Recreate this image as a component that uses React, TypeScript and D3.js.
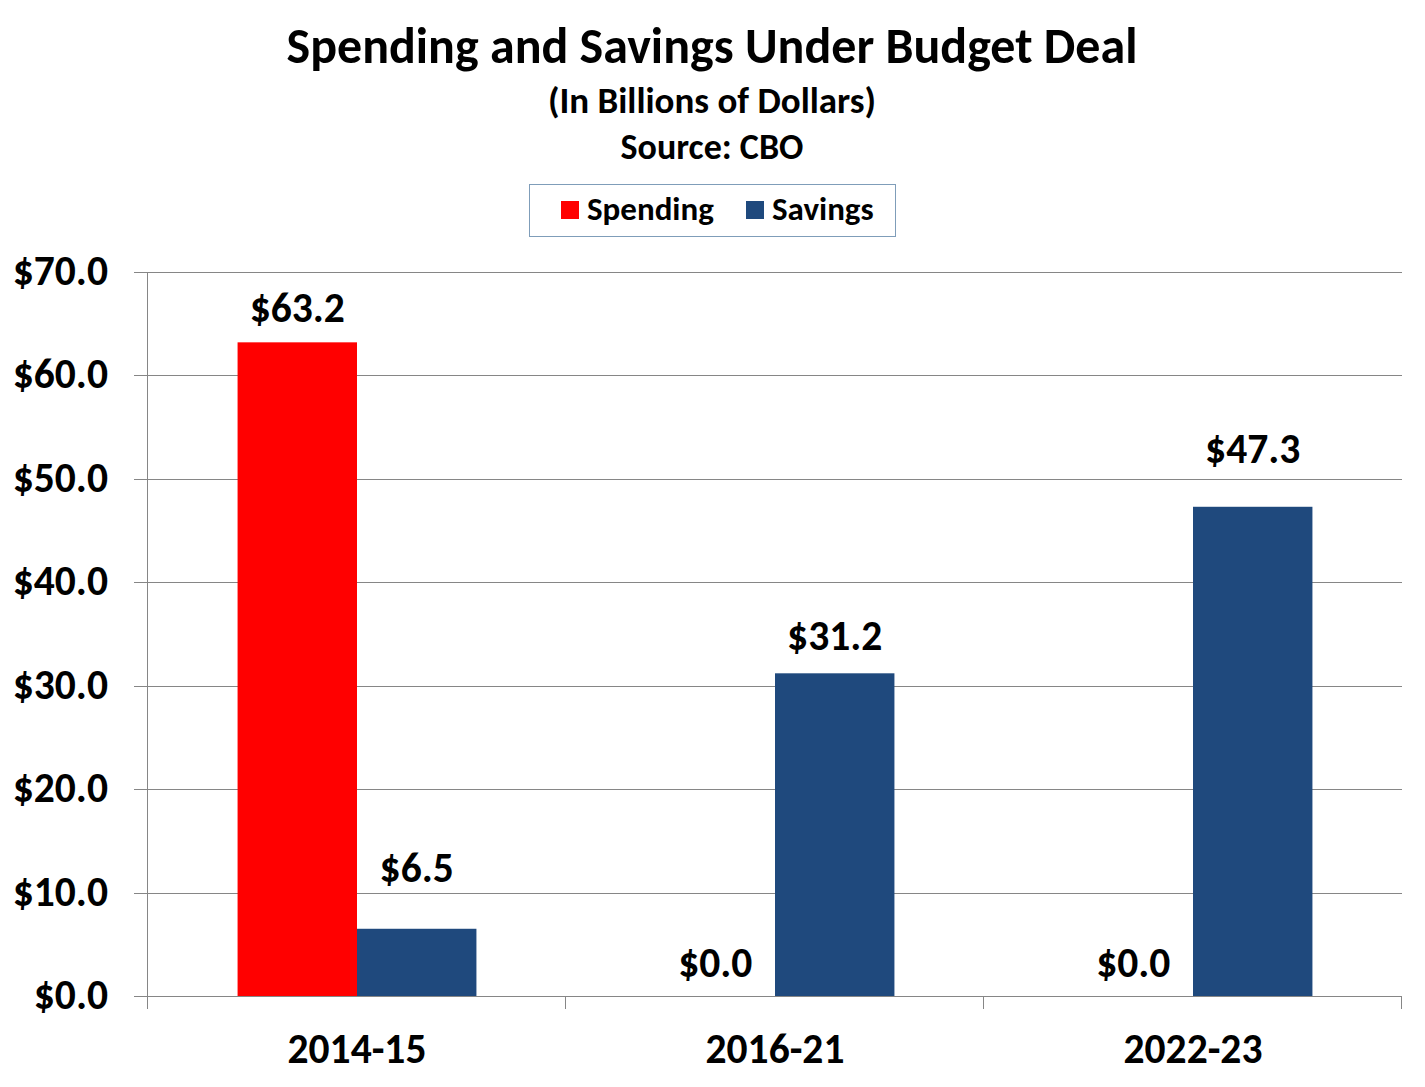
import React from "react";
import * as d3 from "d3";

const categories = ["2014-15", "2016-21", "2022-23"];
const seriesNames = ["Spending", "Savings"];
const spending = [63.2, 0.0, 0.0];
const savings = [6.5, 31.2, 47.3];
const yTicks = [0, 10, 20, 30, 40, 50, 60, 70];
const colors = ["#FF0000", "#1F497D"];
// gap in px between bar top and data label baseline (manually placed labels in the original)
const spendingLabelGap = [20, 19, 19];
const savingsLabelGap = [47, 23, 44];

const FONT = "Carlito, Calibri, Lato, 'Open Sans', sans-serif";

export default function App() {
  const W = 1425, H = 1087;
  const left = 148, right = 1402, top = 272, bottom = 996;
  const x = d3.scaleBand<string>().domain(categories).range([left, right]).paddingInner(0).paddingOuter(0);
  const y = d3.scaleLinear().domain([0, 70]).range([bottom, top]);
  const bw = x.bandwidth();
  const barW = bw / 3.5;
  const gapOuter = (bw - 2 * barW) / 2;
  const xs = d3.scaleBand<string>().domain(seriesNames).range([gapOuter, gapOuter + 2 * barW]);
  const data = [spending, savings];
  const gaps = [spendingLabelGap, savingsLabelGap];
  const fmt = (v: number) => "$" + d3.format(".1f")(v);

  return (
    <svg width={W} height={H} style={{ position: "absolute", left: 0, top: 0, background: "#fff" }} fontFamily={FONT} fontWeight="bold">
      <rect x={0} y={0} width={W} height={H} fill="#fff" />
      <text x={712} y={63} textAnchor="middle" fontSize={50}>Spending and Savings Under Budget Deal</text>
      <text x={712} y={113} textAnchor="middle" fontSize={37}>(In Billions of Dollars)</text>
      <text x={712} y={159} textAnchor="middle" fontSize={36}>Source: CBO</text>

      <rect x={529.5} y={184.5} width={366} height={52} fill="#fff" stroke="#7F9DB9" strokeWidth={1} />
      <rect x={561} y={201} width={18} height={18} fill={colors[0]} />
      <text x={587} y={220} fontSize={33}>Spending</text>
      <rect x={746} y={201} width={18} height={18} fill={colors[1]} />
      <text x={772} y={220} fontSize={33}>Savings</text>

      {yTicks.map((t) => (
        <g key={t}>
          <line x1={134} x2={right} y1={Math.round(y(t)) + 0.5} y2={Math.round(y(t)) + 0.5} stroke="#868686" strokeWidth={1} />
          <text x={108} y={y(t) + 13} textAnchor="end" fontSize={41.5}>{fmt(t)}</text>
        </g>
      ))}
      <line x1={left - 0.5} x2={left - 0.5} y1={top} y2={1009} stroke="#868686" />
      {[...categories.map((c) => x(c) as number), right].map((px, i) => (
        <line key={i} x1={px - 0.5} x2={px - 0.5} y1={bottom} y2={1009} stroke="#868686" />
      ))}
      {categories.map((c) => (
        <text key={c} x={(x(c) as number) + bw / 2} y={1063} textAnchor="middle" fontSize={41.5}>{c}</text>
      ))}

      {categories.map((c, ci) =>
        seriesNames.map((s, si) => {
          const v = data[si][ci];
          const bx = (x(c) as number) + (xs(s) as number);
          return (
            <g key={c + s}>
              <rect x={bx} y={y(v)} width={xs.bandwidth()} height={bottom - y(v)} fill={colors[si]} />
              <text x={bx + xs.bandwidth() / 2} y={y(v) - gaps[si][ci]} textAnchor="middle" fontSize={41.5}>{fmt(v)}</text>
            </g>
          );
        })
      )}
    </svg>
  );
}
